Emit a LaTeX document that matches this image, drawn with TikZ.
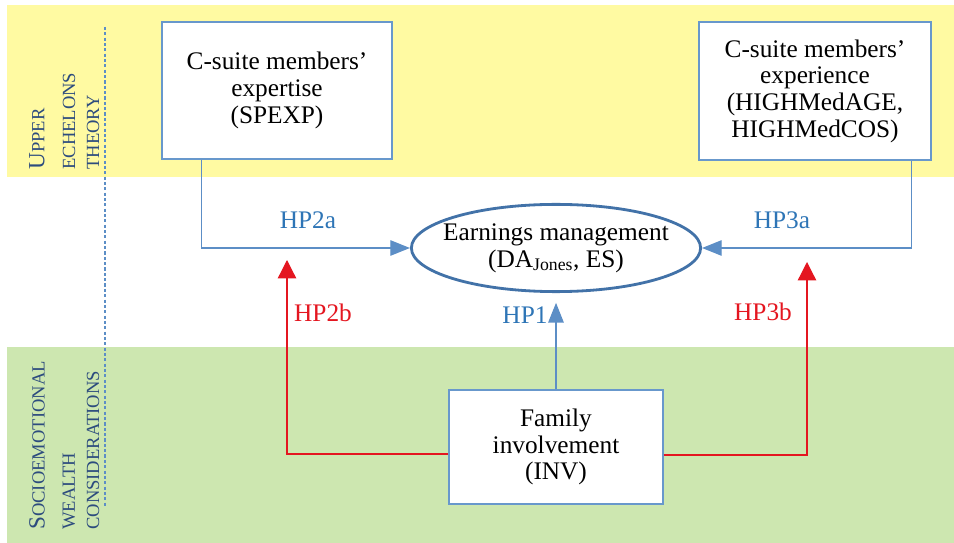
\documentclass[tikz,border=0pt]{standalone}
\usepackage{fontspec}
\setmainfont{Liberation Serif}
\usetikzlibrary{arrows.meta,shapes.geometric}

\definecolor{bandyellow}{RGB}{255,250,162}
\definecolor{bandgreen}{RGB}{205,231,176}
\definecolor{boxblue}{RGB}{104,152,204}
\definecolor{ovalblue}{RGB}{66,114,168}
\definecolor{lineblue}{RGB}{92,142,198}
\definecolor{hpblue}{RGB}{46,117,182}
\definecolor{hpred}{RGB}{228,22,32}
\definecolor{theoryblue}{RGB}{45,76,126}

\tikzset{
	varbox/.style={draw=boxblue, fill=white, line width=0.9pt, align=center, inner sep=0pt,
		font=\fontsize{18}{19}\selectfont},
	hplabel/.style={font=\fontsize{18}{19}\selectfont, inner sep=0pt},
	bluelink/.style={draw=lineblue, line width=0.9pt, -{Triangle[length=14pt,width=11pt]}},
	redlink/.style={draw=hpred, line width=0.9pt, -{Triangle[length=13pt,width=13pt]}},
	theory/.style={rotate=90, anchor=west, inner sep=0pt, text=theoryblue,
		font=\fontsize{13.2}{15}\selectfont}
}
\newcommand{\firstcap}[1]{{\fontsize{16.5}{16}\selectfont #1}}

\begin{document}
\begin{tikzpicture}[x=0.025cm, y=-0.025cm]
	\useasboundingbox (0,0) rectangle (954,543);
	% bande di sfondo
	\fill[bandyellow] (7,5) rectangle (954,177);
	\fill[bandgreen] (7,347) rectangle (954,543);
	\draw[lineblue, line width=0.8pt, dash pattern=on 2.2pt off 1.6pt] (105,27) -- (105,507);
	
	% etichette laterali
	\node[theory] (ue1) at (37,170) {\firstcap{U}PPER};
	\node[theory] (ue2) at (69,170) {ECHELONS};
	\node[theory] (ue3) at (93,170) {THEORY};
	\node[theory] (sw1) at (37,530) {\firstcap{S}OCIOEMOTIONAL};
	\node[theory] (sw2) at (69,530) {WEALTH};
	\node[theory] (sw3) at (93,530) {CONSIDERATIONS};
	
	% variabili
	\node[varbox, minimum width=5.75cm, minimum height=3.42cm] (spexp) at (277,90.5)
		{C-suite members'\\expertise\\(SPEXP)};
	\node[varbox, minimum width=5.8cm, minimum height=3.45cm] (exper) at (815,91)
		{C-suite members'\\experience\\(HIGHMedAGE,\\HIGHMedCOS)};
	\node[varbox, minimum width=5.35cm, minimum height=2.85cm] (inv) at (556,447)
		{Family\\involvement\\(INV)};
	\node[ellipse, draw=ovalblue, fill=white, line width=2pt, align=center,
		inner xsep=-7.5pt, inner ysep=0pt, minimum width=7.22cm, minimum height=2.18cm,
		font=\fontsize{18}{19}\selectfont] (em) at (556,248)
		{Earnings management\\(DA\textsubscript{Jones}, ES)};
	
	\coordinate (tipL) at (287,260);
	\coordinate (tipR) at (807,262);
	
	% frecce
	\draw[bluelink] (spexp.south west) ++(40,0) |- (em.west);
	\draw[bluelink] (exper.south east) ++(-20,0) |- (em.east);
	\draw[bluelink, shorten >=7pt] (inv.north) -- (em.south);
	\draw[redlink] (inv.west) ++(0,7) -| (tipL);
	\draw[redlink] (inv.east) ++(0,8) -| (tipR);
	
	% ipotesi
	\node[hplabel, text=hpblue] (hp2a) at (308,220) {HP2a};
	\node[hplabel, text=hpblue] (hp3a) at (782,220) {HP3a};
	\node[hplabel, text=hpblue] (hp1) at (525,315) {HP1};
	\node[hplabel, text=hpred] (hp2b) at (323,313) {HP2b};
	\node[hplabel, text=hpred] (hp3b) at (763,312) {HP3b};
\end{tikzpicture}
\end{document}
